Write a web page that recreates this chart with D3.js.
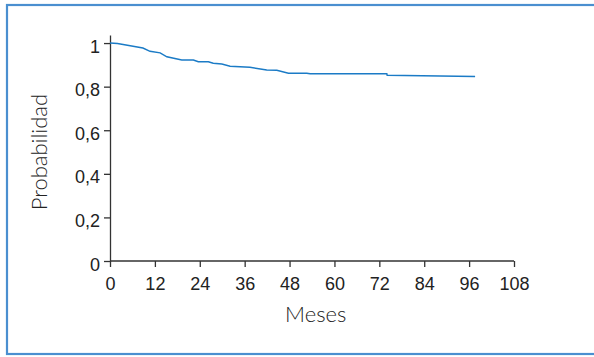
<!DOCTYPE html>
<html>
<head>
<meta charset="utf-8">
<script src="https://cdn.jsdelivr.net/npm/d3@7"></script>
<style>
  body { margin: 0; background: #fff; }
  svg { display: block; font-family: Lato, "Open Sans", sans-serif; }
  .axis text { font-size: 18px; fill: #222; font-weight: 300; }
  .axis path, .axis line { stroke: #333; stroke-width: 1.3; }
</style>
</head>
<body>
<svg id="chart"></svg>
<script>
const W = 594, H = 357;
const margin = {top: 35, right: 80, bottom: 96, left: 110};
const width = W - margin.left - margin.right;
const height = H - margin.top - margin.bottom;

// survival curve
const months = [0, 2, 8.8, 10.7, 13.4, 15.2, 19.2, 22.3, 23.6, 26.3, 27.6, 29.9, 32.1, 37.4, 41.9, 44.6, 47.7, 52.6, 53.5, 74, 74.1, 97.6];
const survival = [1.0, 0.998, 0.977, 0.962, 0.955, 0.937, 0.922, 0.922, 0.914, 0.914, 0.907, 0.904, 0.894, 0.889, 0.876, 0.875, 0.862, 0.862, 0.859, 0.859, 0.852, 0.847];

const xTicks = [0, 12, 24, 36, 48, 60, 72, 84, 96, 108];
const yTicks = [0, 0.2, 0.4, 0.6, 0.8, 1];

const svg0 = d3.select("#chart").attr("width", W).attr("height", H);

// frame
svg0.append("rect")
    .attr("x", 7).attr("y", 5)
    .attr("width", 600).attr("height", 349)
    .attr("fill", "none")
    .attr("stroke", "#4a8fd0")
    .attr("stroke-width", 2.2);

const svg = svg0.append("g")
    .attr("transform", `translate(${margin.left},${margin.top})`);

const x = d3.scaleLinear().domain([0, 108]).range([0, width]);
const y = d3.scaleLinear().domain([0, 1.037]).range([height, 0]);

const fmt = d => d === 0 ? "0" : d === 1 ? "1" : d3.format(".1f")(d).replace(".", ",");

svg.append("g")
    .attr("class", "axis")
    .attr("transform", `translate(0,${height})`)
    .call(d3.axisBottom(x).tickValues(xTicks).tickSize(6).tickSizeOuter(0).tickPadding(10))
    .call(g => g.select(".domain").attr("d", `M0,0H${x(108)}`));

svg.append("g")
    .attr("class", "axis")
    .call(d3.axisLeft(y).tickValues(yTicks).tickFormat(fmt).tickSize(6).tickSizeOuter(0).tickPadding(4))
    .call(g => g.selectAll(".tick text").attr("dy", "0.5em"));

const line = d3.line()
    .x((d, i) => x(months[i]))
    .y(d => y(d));

svg.append("path")
    .datum(survival)
    .attr("d", line)
    .attr("fill", "none")
    .attr("stroke", "#1b7bc6")
    .attr("stroke-width", 1.5);

svg.append("text")
    .attr("x", x(55)).attr("y", height + 61)
    .attr("text-anchor", "middle")
    .attr("font-size", 22).attr("font-weight", 300).attr("fill", "#222")
    .text("Meses");

svg.append("text")
    .attr("transform", `translate(${-63},${y(0.5)}) rotate(-90)`)
    .attr("text-anchor", "middle")
    .attr("font-size", 22).attr("font-weight", 300).attr("fill", "#222")
    .text("Probabilidad");
</script>
</body>
</html>
